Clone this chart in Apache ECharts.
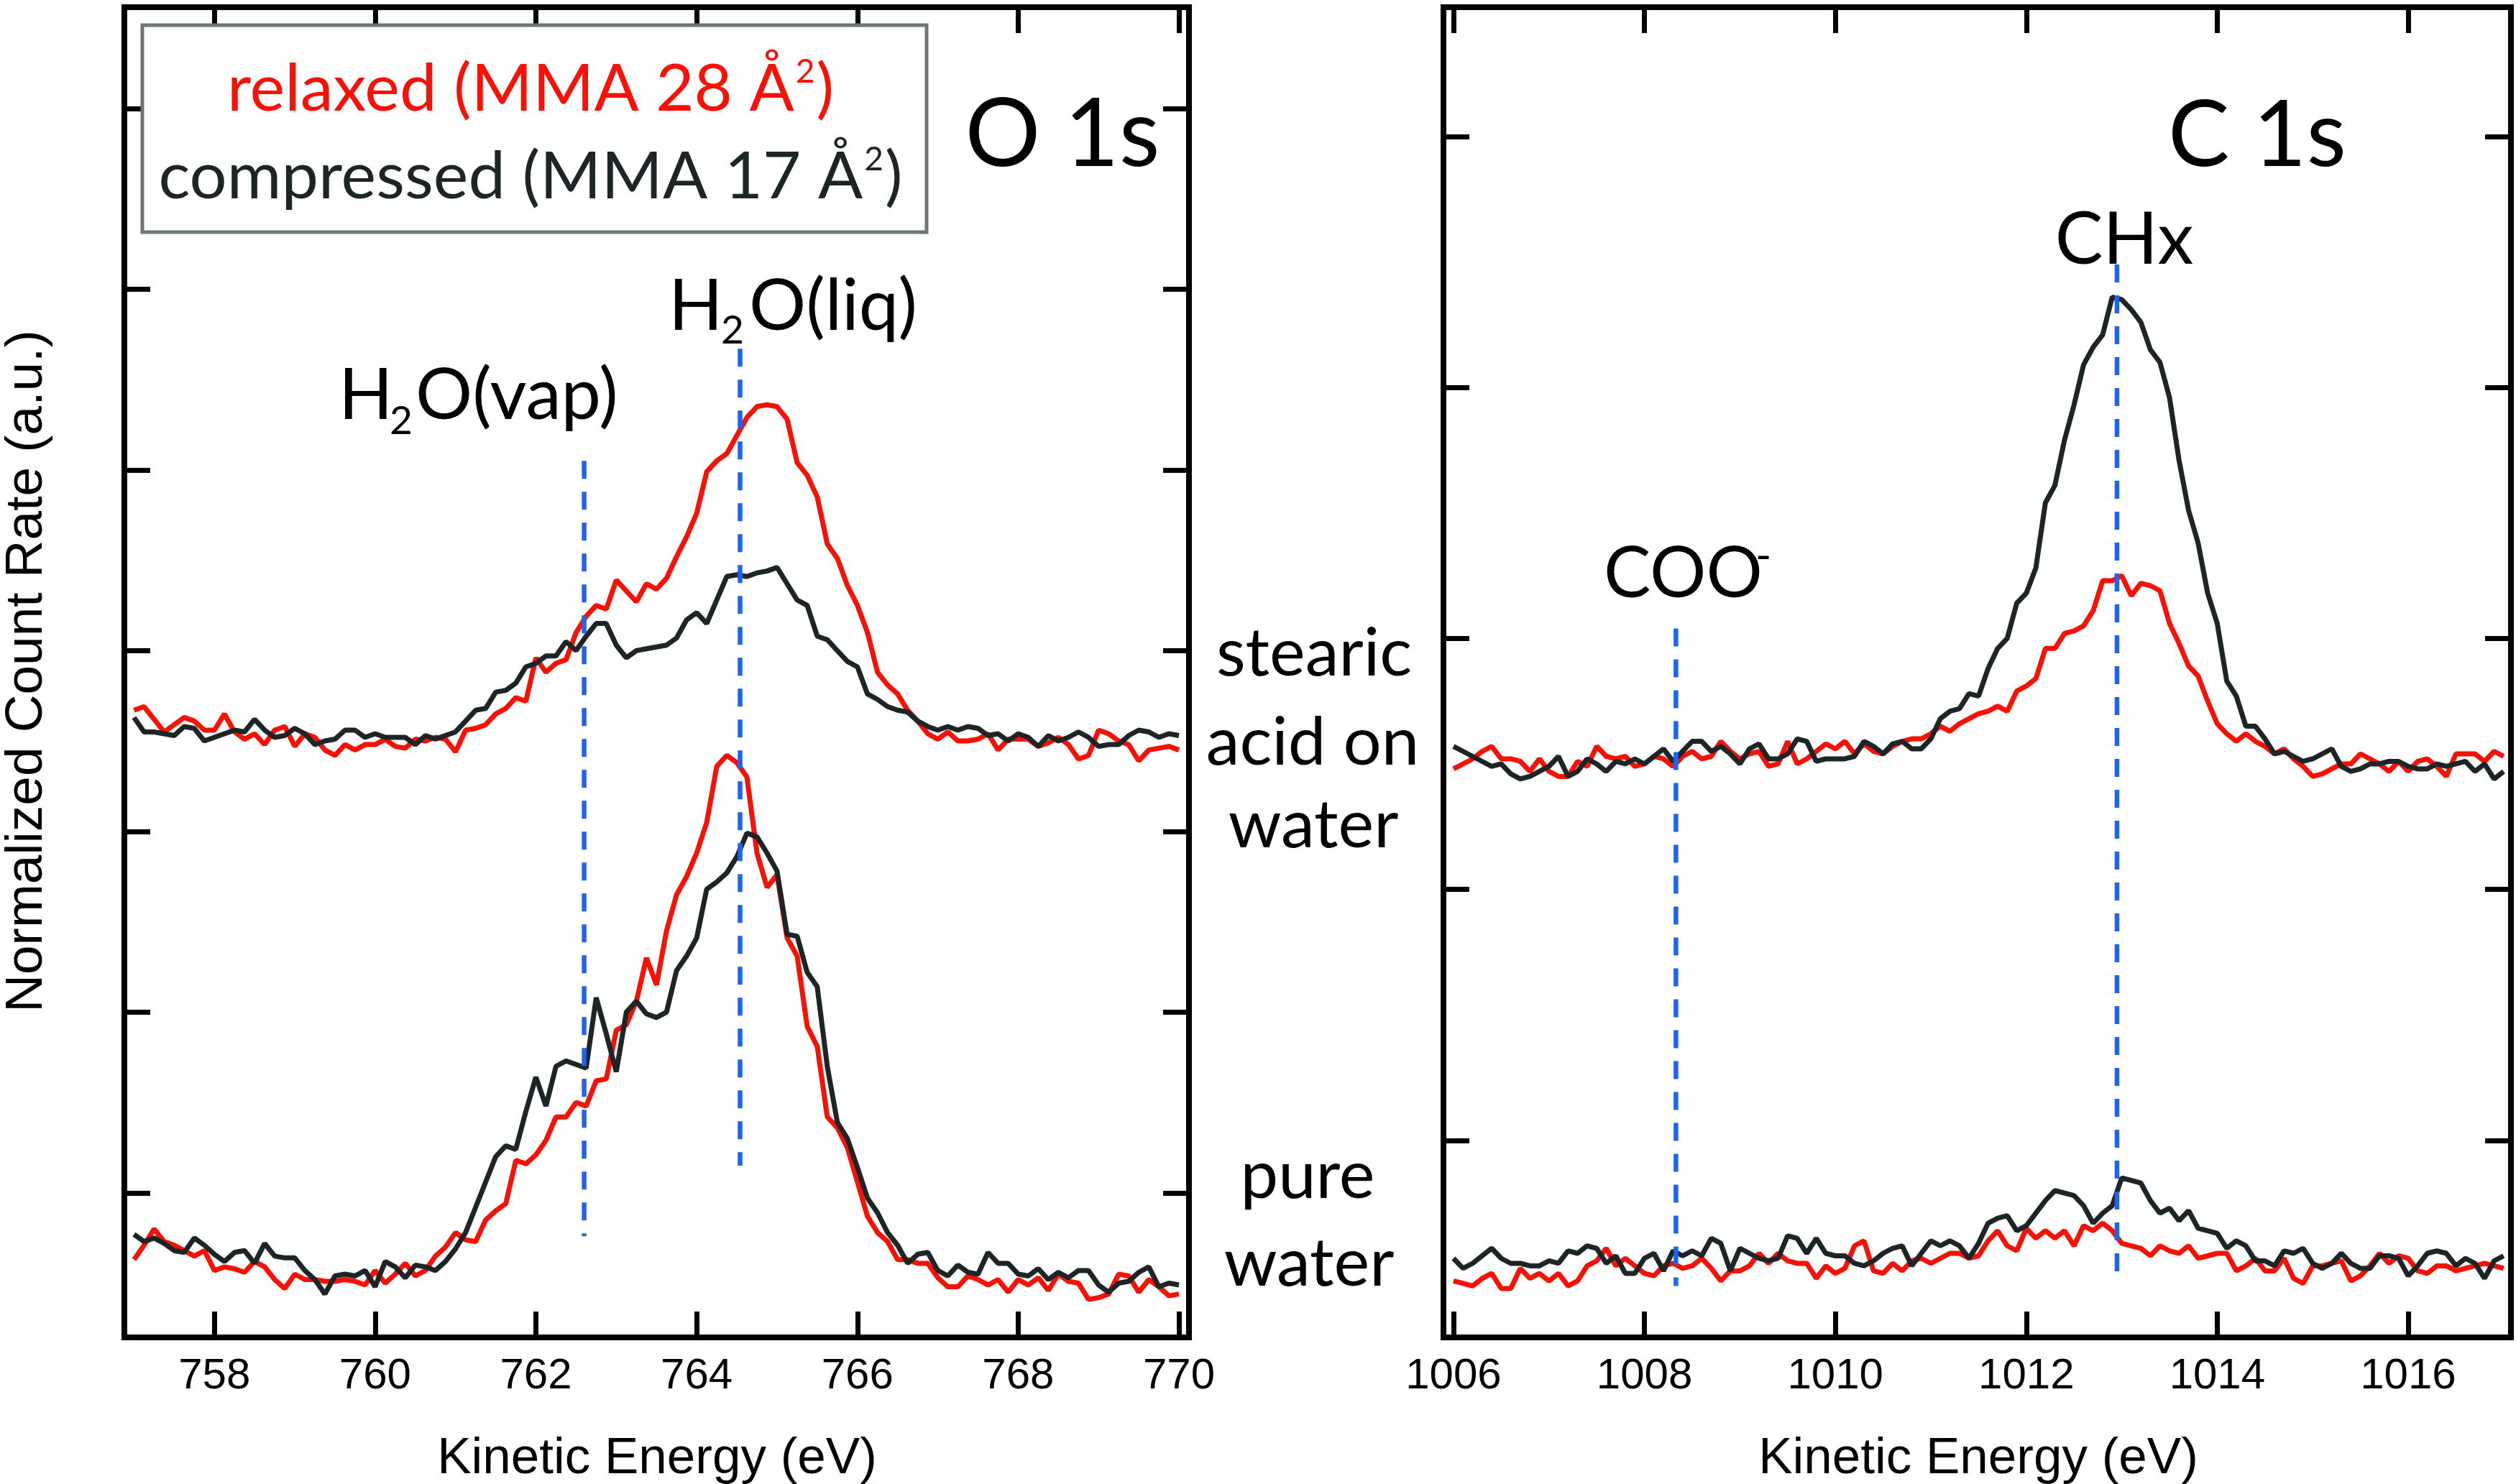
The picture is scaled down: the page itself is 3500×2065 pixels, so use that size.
<!DOCTYPE html>
<html>
<head>
<meta charset="utf-8">
<script src="https://cdn.jsdelivr.net/npm/echarts@6.0.0/dist/echarts.min.js"></script>
<style>
    html, body { margin: 0; padding: 0; background: #fff; }
    #main { width: 3500px; height: 2065px; }
</style>
</head>
<body>
<div id="main"></div>
<script>
    // O 1s panel: kinetic energy grid (eV)
    var oEnergy = [
        757,757.125,757.25,757.375,757.5,757.625,757.75,757.875,
        758,758.125,758.25,758.375,758.5,758.625,758.75,758.875,
        759,759.125,759.25,759.375,759.5,759.625,759.75,759.875,
        760,760.125,760.25,760.375,760.5,760.625,760.75,760.875,
        761,761.125,761.25,761.375,761.5,761.625,761.75,761.875,
        762,762.125,762.25,762.375,762.5,762.625,762.75,762.875,
        763,763.125,763.25,763.375,763.5,763.625,763.75,763.875,
        764,764.125,764.25,764.375,764.5,764.625,764.75,764.875,
        765,765.125,765.25,765.375,765.5,765.625,765.75,765.875,
        766,766.125,766.25,766.375,766.5,766.625,766.75,766.875,
        767,767.125,767.25,767.375,767.5,767.625,767.75,767.875,
        768,768.125,768.25,768.375,768.5,768.625,768.75,768.875,
        769,769.125,769.25,769.375,769.5,769.625,769.75,769.875,
        770
    ];
    // stearic acid on water (upper traces)
    var oRelaxedTop = [
        3.67,3.69,3.62,3.55,3.59,3.63,3.61,3.56,3.56,3.65,3.55,3.51,3.54,3.48,3.56,3.58,3.47,3.54,3.52,3.45,
        3.42,3.48,3.45,3.48,3.48,3.51,3.47,3.46,3.51,3.50,3.52,3.51,3.44,3.56,3.57,3.59,3.65,3.68,3.74,3.72,
        3.96,3.88,3.93,3.95,4.10,4.19,4.25,4.23,4.39,4.33,4.27,4.37,
        4.34,4.40,4.52,4.63,4.76,4.99,5.05,5.09,5.19,5.29,5.35,5.36,5.35,5.28,5.04,4.97,4.85,4.59,4.51,4.36,
        4.25,4.10,3.88,3.81,3.76,3.67,3.61,3.54,3.51,3.55,3.50,3.50,3.51,3.54,3.45,3.51,3.51,3.51,3.47,3.49,
        3.52,3.48,3.40,3.42,3.56,3.54,3.50,3.48,3.39,3.45,3.46,3.47,3.45
    ];
    var oCompressedTop = [
        3.63,3.55,3.55,3.54,3.53,3.58,3.57,3.50,3.52,3.54,3.56,3.55,3.62,3.56,3.52,3.53,3.57,3.54,3.48,3.50,
        3.51,3.56,3.56,3.52,3.54,3.52,3.52,3.52,3.48,3.53,3.51,3.53,3.55,3.61,3.67,3.68,3.77,3.78,3.82,3.91,
        3.93,3.97,3.97,4.05,4.00,4.08,4.15,4.15,4.03,3.96,4.00,4.01,
        4.02,4.03,4.07,4.17,4.21,4.15,4.28,4.41,4.42,4.41,4.43,4.44,4.46,4.37,4.28,4.25,4.08,4.06,4.00,3.94,
        3.91,3.76,3.73,3.69,3.67,3.66,3.61,3.58,3.56,3.58,3.56,3.58,3.57,3.53,3.54,3.50,3.54,3.52,3.47,3.53,
        3.50,3.52,3.55,3.52,3.47,3.48,3.48,3.53,3.56,3.55,3.52,3.54,3.53
    ];
    // pure water (lower traces)
    var oRelaxedBottom = [
        0.63,0.71,0.80,0.73,0.71,0.68,0.65,0.68,0.57,0.59,0.58,0.56,0.62,0.59,0.52,0.47,0.55,0.52,0.52,0.51,
        0.51,0.52,0.51,0.49,0.57,0.50,0.55,0.61,0.54,0.57,0.65,0.70,0.78,0.74,0.73,0.85,0.90,0.94,1.18,1.16,
        1.21,1.29,1.42,1.42,1.50,1.48,1.62,1.63,1.90,1.93,2.06,2.30,
        2.15,2.45,2.65,2.75,2.88,3.05,3.36,3.42,3.38,3.30,2.88,2.69,2.76,2.41,2.31,1.92,1.81,1.42,1.36,1.25,
        1.06,0.87,0.78,0.73,0.63,0.63,0.61,0.61,0.53,0.48,0.48,0.54,0.52,0.49,0.52,0.45,0.52,0.49,0.53,0.46,
        0.55,0.51,0.50,0.41,0.42,0.44,0.55,0.54,0.45,0.52,0.48,0.43,0.44
    ];
    var oCompressedBottom = [
        0.77,0.73,0.75,0.72,0.68,0.67,0.75,0.71,0.66,0.62,0.67,0.68,0.61,0.72,0.65,0.64,0.64,0.57,0.52,0.44,
        0.54,0.55,0.54,0.57,0.48,0.62,0.59,0.53,0.60,0.59,0.57,0.62,0.69,0.78,0.92,1.06,1.20,1.26,1.24,1.45,
        1.64,1.48,1.70,1.73,1.71,1.69,2.08,1.88,1.67,2.00,2.06,1.99,
        1.97,2.00,2.23,2.31,2.41,2.68,2.72,2.77,2.86,2.99,2.97,2.88,2.78,2.43,2.42,2.22,2.14,1.70,1.39,1.30,
        1.14,0.97,0.89,0.78,0.71,0.61,0.66,0.67,0.57,0.54,0.60,0.56,0.55,0.67,0.61,0.61,0.55,0.54,0.58,0.52,
        0.56,0.53,0.57,0.57,0.49,0.45,0.50,0.51,0.56,0.59,0.48,0.50,0.49
    ];

    // C 1s panel: kinetic energy grid (eV)
    var cEnergy = [
        1006,1006.1,1006.2,1006.3,1006.4,1006.5,1006.6,1006.7,1006.8,1006.9,
        1007,1007.1,1007.2,1007.3,1007.4,1007.5,1007.6,1007.7,1007.8,1007.9,
        1008,1008.1,1008.2,1008.3,1008.4,1008.5,1008.6,1008.7,1008.8,1008.9,
        1009,1009.1,1009.2,1009.3,1009.4,1009.5,1009.6,1009.7,1009.8,1009.9,
        1010,1010.1,1010.2,1010.3,1010.4,1010.5,1010.6,1010.7,1010.8,1010.9,
        1011,1011.1,1011.2,1011.3,1011.4,1011.5,1011.6,1011.7,1011.8,1011.9,
        1012,1012.1,1012.2,1012.3,1012.4,1012.5,1012.6,1012.7,1012.8,1012.9,
        1013,1013.1,1013.2,1013.3,1013.4,1013.5,1013.6,1013.7,1013.8,1013.9,
        1014,1014.1,1014.2,1014.3,1014.4,1014.5,1014.6,1014.7,1014.8,1014.9,
        1015,1015.1,1015.2,1015.3,1015.4,1015.5,1015.6,1015.7,1015.8,1015.9,
        1016,1016.1,1016.2,1016.3,1016.4,1016.5,1016.6,1016.7,1016.8,1016.9,
        1017
    ];
    var cRelaxedTop = [
        2.48,2.50,2.52,2.55,2.57,2.52,2.52,2.51,2.47,2.52,2.47,2.45,2.45,2.51,2.49,2.57,2.53,2.52,2.53,2.49,
        2.50,2.53,2.52,2.49,2.53,2.55,2.52,2.53,2.59,2.55,2.52,2.54,2.55,2.49,2.50,2.59,2.50,2.52,2.55,2.58,
        2.56,2.59,2.54,2.58,2.55,2.54,2.57,2.59,2.60,2.60,2.62,2.65,2.63,2.66,2.68,
        2.70,2.71,2.73,2.71,2.79,2.81,2.84,2.96,2.96,3.02,3.03,3.05,3.11,3.23,3.23,3.25,3.17,3.22,3.21,3.19,
        3.06,2.98,2.89,2.85,2.75,2.66,2.62,2.59,2.62,2.59,2.57,2.54,2.56,2.52,2.49,2.45,2.46,2.48,2.50,2.50,
        2.54,2.52,2.50,2.47,2.51,2.47,2.51,2.52,2.49,2.45,2.54,2.54,2.54,2.51,2.55,2.53
    ];
    var cCompressedTop = [
        2.57,2.55,2.53,2.51,2.49,2.50,2.46,2.44,2.45,2.47,2.49,2.53,2.45,2.47,2.52,2.50,2.47,2.51,2.50,2.52,
        2.50,2.53,2.56,2.51,2.55,2.59,2.59,2.55,2.57,2.54,2.50,2.56,2.58,2.52,2.52,2.54,2.60,2.59,2.51,2.52,
        2.52,2.52,2.53,2.59,2.57,2.54,2.58,2.59,2.56,2.56,2.60,2.68,2.71,2.72,2.78,
        2.77,2.88,2.96,3.00,3.14,3.18,3.28,3.54,3.61,3.79,3.93,4.09,4.16,4.21,4.36,4.35,4.31,4.26,4.15,4.10,
        3.96,3.71,3.51,3.38,3.18,3.06,2.83,2.77,2.65,2.65,2.60,2.54,2.55,2.53,2.51,2.52,2.54,2.56,2.49,2.47,
        2.48,2.50,2.50,2.51,2.51,2.49,2.48,2.48,2.50,2.49,2.50,2.51,2.47,2.50,2.44,2.47
    ];
    var cRelaxedBottom = [
        0.44,0.43,0.42,0.45,0.47,0.41,0.41,0.49,0.45,0.47,0.44,0.47,0.42,0.44,0.50,0.52,0.57,0.50,0.53,0.50,
        0.47,0.46,0.50,0.51,0.49,0.50,0.53,0.49,0.44,0.48,0.48,0.50,0.55,0.51,0.55,0.52,0.51,0.51,0.45,0.50,
        0.47,0.49,0.58,0.60,0.48,0.47,0.51,0.48,0.52,0.53,0.51,0.53,0.55,0.55,0.53,
        0.54,0.60,0.64,0.58,0.56,0.65,0.61,0.64,0.61,0.64,0.58,0.66,0.64,0.67,0.64,0.59,0.58,0.57,0.54,0.58,
        0.56,0.55,0.58,0.53,0.54,0.55,0.55,0.48,0.50,0.53,0.48,0.48,0.53,0.45,0.43,0.50,0.50,0.51,0.52,0.44,
        0.46,0.50,0.55,0.51,0.54,0.53,0.48,0.47,0.50,0.50,0.48,0.49,0.50,0.51,0.50,0.49
    ];
    var cCompressedBottom = [
        0.53,0.49,0.51,0.54,0.57,0.53,0.51,0.51,0.50,0.50,0.52,0.51,0.56,0.55,0.58,0.57,0.51,0.54,0.47,0.47,
        0.53,0.55,0.48,0.56,0.54,0.56,0.54,0.61,0.59,0.48,0.57,0.55,0.53,0.52,0.53,0.62,0.61,0.55,0.61,0.55,
        0.54,0.54,0.51,0.50,0.52,0.55,0.57,0.58,0.50,0.55,0.60,0.58,0.60,0.58,0.53,
        0.59,0.67,0.69,0.70,0.64,0.66,0.71,0.76,0.80,0.79,0.78,0.74,0.67,0.71,0.74,0.85,0.84,0.83,0.76,0.71,
        0.73,0.68,0.72,0.65,0.64,0.63,0.57,0.60,0.58,0.52,0.52,0.50,0.56,0.55,0.57,0.51,0.49,0.51,0.55,0.51,
        0.49,0.49,0.54,0.54,0.53,0.46,0.50,0.55,0.56,0.55,0.50,0.53,0.51,0.45,0.52,0.54
    ];

    // peak markers (dashed lines): energy and vertical extent
    var oPeakEnergy = [762.60, 764.54];
    var oPeakSpan = [[5.05, 0.76], [5.67, 1.15]];
    var cPeakEnergy = [1008.33, 1012.95];
    var cPeakSpan = [[3.04, 0.42], [4.49, 0.47]];

    // axis ticks
    var oTickLabels = [758, 760, 762, 764, 766, 768, 770];
    var cTickLabels = [1006, 1008, 1010, 1012, 1014, 1016];
    var oYTicks = [1, 2, 3, 4, 5, 6, 7];
    var cYTicks = [1, 2, 3, 4, 5];

    var RED = '#fb1005';
    var BLACK = '#1e2526';
    var BLUE = '#1f64f0';

    function pairs(xs, ys) {
        return xs.map(function (x, i) { return [x, ys[i]]; });
    }

    function curve(xs, ys, color, axis) {
        return {
            type: 'line', xAxisIndex: axis, yAxisIndex: axis,
            data: pairs(xs, ys), showSymbol: false, symbol: 'none',
            lineStyle: { color: color, width: 7 }, z: 3
        };
    }

    function marker(x, span, axis) {
        return {
            type: 'line', xAxisIndex: axis, yAxisIndex: axis,
            data: [[x, span[0]], [x, span[1]]], showSymbol: false, symbol: 'none',
            lineStyle: { color: BLUE, width: 6.5, type: [25, 18] }, z: 5
        };
    }

    function xAx(grid, min, max, ticks, pos, labels) {
        return {
            gridIndex: grid, type: 'value', min: min, max: max, position: pos,
            axisLine: { show: false, onZero: false },
            splitLine: { show: false },
            axisTick: { show: true, inside: true, length: 36, customValues: ticks,
                lineStyle: { color: '#000', width: 7 } },
            axisLabel: { show: labels, customValues: ticks, margin: 24, fontSize: 60,
                fontFamily: 'Liberation Sans', color: '#000',
                formatter: function (v) { return String(v); } }
        };
    }

    function yAx(grid, min, max, ticks, pos) {
        return {
            gridIndex: grid, type: 'value', min: min, max: max, position: pos,
            axisLine: { show: false, onZero: false },
            splitLine: { show: false },
            axisTick: { show: true, inside: true, length: 36, customValues: ticks,
                lineStyle: { color: '#000', width: 7 } },
            axisLabel: { show: false }
        };
    }

    function txt(x, y, s, size, family, color, align) {
        return {
            type: 'text', x: x, y: y, z: 100,
            style: {
                text: s, fill: color || '#000',
                font: size + 'px "' + family + '"',
                align: align || 'center', textAlign: align || 'center',
                verticalAlign: 'middle', textVerticalAlign: 'middle'
            }
        };
    }

    // legend line with a raised "2"
    function legendLine(y, before, color) {
        return {
            type: 'text', x: 738, y: y, z: 100,
            style: {
                text: '{m|' + before + '}{s|2}{m|)}',
                align: 'center', textAlign: 'center',
                verticalAlign: 'middle', textVerticalAlign: 'middle',
                rich: {
                    m: { fontSize: 92, fontFamily: 'Lato', fill: color, color: color,
                         lineHeight: 100, verticalAlign: 'middle' },
                    s: { fontSize: 46, fontFamily: 'Lato', fill: color, color: color,
                         verticalAlign: 'top', padding: [3, 2, 0, 2] }
                }
            }
        };
    }

    var chart = echarts.init(document.getElementById('main'));

    var option = {
        backgroundColor: '#fff',
        animation: false,
        grid: [
            { left: 173, top: 10, right: 1846, bottom: 204, show: true, borderColor: '#000', borderWidth: 8, backgroundColor: 'transparent' },
            { left: 2008, top: 10, right: 7, bottom: 204, show: true, borderColor: '#000', borderWidth: 8, backgroundColor: 'transparent' }
        ],
        xAxis: [
            xAx(0, 756.88, 770.125, oTickLabels, 'bottom', true),
            xAx(1, 1005.895, 1017.077, cTickLabels, 'bottom', true),
            xAx(0, 756.88, 770.125, oTickLabels, 'top', false),
            xAx(1, 1005.895, 1017.077, cTickLabels, 'top', false)
        ],
        yAxis: [
            yAx(0, 0.2, 7.56, oYTicks, 'left'),
            yAx(1, 0.215, 5.515, cYTicks, 'left'),
            yAx(0, 0.2, 7.56, oYTicks, 'right'),
            yAx(1, 0.215, 5.515, cYTicks, 'right')
        ],
        series: [
            curve(oEnergy, oRelaxedTop, RED, 0),
            curve(oEnergy, oCompressedTop, BLACK, 0),
            curve(oEnergy, oRelaxedBottom, RED, 0),
            curve(oEnergy, oCompressedBottom, BLACK, 0),
            curve(cEnergy, cRelaxedTop, RED, 1),
            curve(cEnergy, cCompressedTop, BLACK, 1),
            curve(cEnergy, cRelaxedBottom, RED, 1),
            curve(cEnergy, cCompressedBottom, BLACK, 1),
            marker(oPeakEnergy[0], oPeakSpan[0], 0),
            marker(oPeakEnergy[1], oPeakSpan[1], 0),
            marker(cPeakEnergy[0], cPeakSpan[0], 1),
            marker(cPeakEnergy[1], cPeakSpan[1], 1)
        ],
        graphic: [
            // legend box
            { type: 'rect', z: 90, shape: { x: 198, y: 35, width: 1091, height: 288 },
              style: { fill: '#fff', stroke: '#6c7676', lineWidth: 5 } },
            legendLine(124, 'relaxed (MMA 28 Å', RED),
            legendLine(246, 'compressed (MMA 17 Å', BLACK),
            txt(1478, 189, 'O 1s', 131, 'Lato'),
            txt(3140, 190, 'C 1s', 128, 'Lato'),
            // peak labels
            txt(930, 427, 'H', 99, 'Lato', '#000', 'left'),
            txt(1003, 460, '2', 55, 'Lato', '#000', 'left'),
            txt(1042, 427, 'O(liq)', 99, 'Lato', '#000', 'left'),
            txt(471, 551, 'H', 99, 'Lato', '#000', 'left'),
            txt(542, 586, '2', 55, 'Lato', '#000', 'left'),
            txt(578, 551, 'O(vap)', 99, 'Lato', '#000', 'left'),
            txt(2955, 335, 'CHx', 100, 'Lato'),
            txt(2231, 799, 'COO', 98, 'Lato', '#000', 'left'),
            txt(2442, 775, '-', 60, 'Lato', '#000', 'left'),
            // sample labels
            txt(1828, 910, 'stearic', 94, 'Lato'),
            txt(1826, 1034, 'acid on', 94, 'Lato'),
            txt(1827, 1149, 'water', 94, 'Lato'),
            txt(1819, 1637, 'pure', 94, 'Lato'),
            txt(1821, 1759, 'water', 94, 'Lato'),
            // axis titles
            txt(914, 2030, 'Kinetic Energy (eV)', 71, 'Liberation Sans'),
            txt(2752, 2030, 'Kinetic Energy (eV)', 71, 'Liberation Sans'),
            {
                type: 'text', x: 38, y: 934, rotation: Math.PI / 2, z: 100,
                style: {
                    text: 'Normalized Count Rate (a.u.)', fill: '#000',
                    font: '73px "Liberation Sans"',
                    align: 'center', textAlign: 'center',
                    verticalAlign: 'middle', textVerticalAlign: 'middle'
                }
            }
        ]
    };
    chart.setOption(option);
</script>
</body>
</html>
